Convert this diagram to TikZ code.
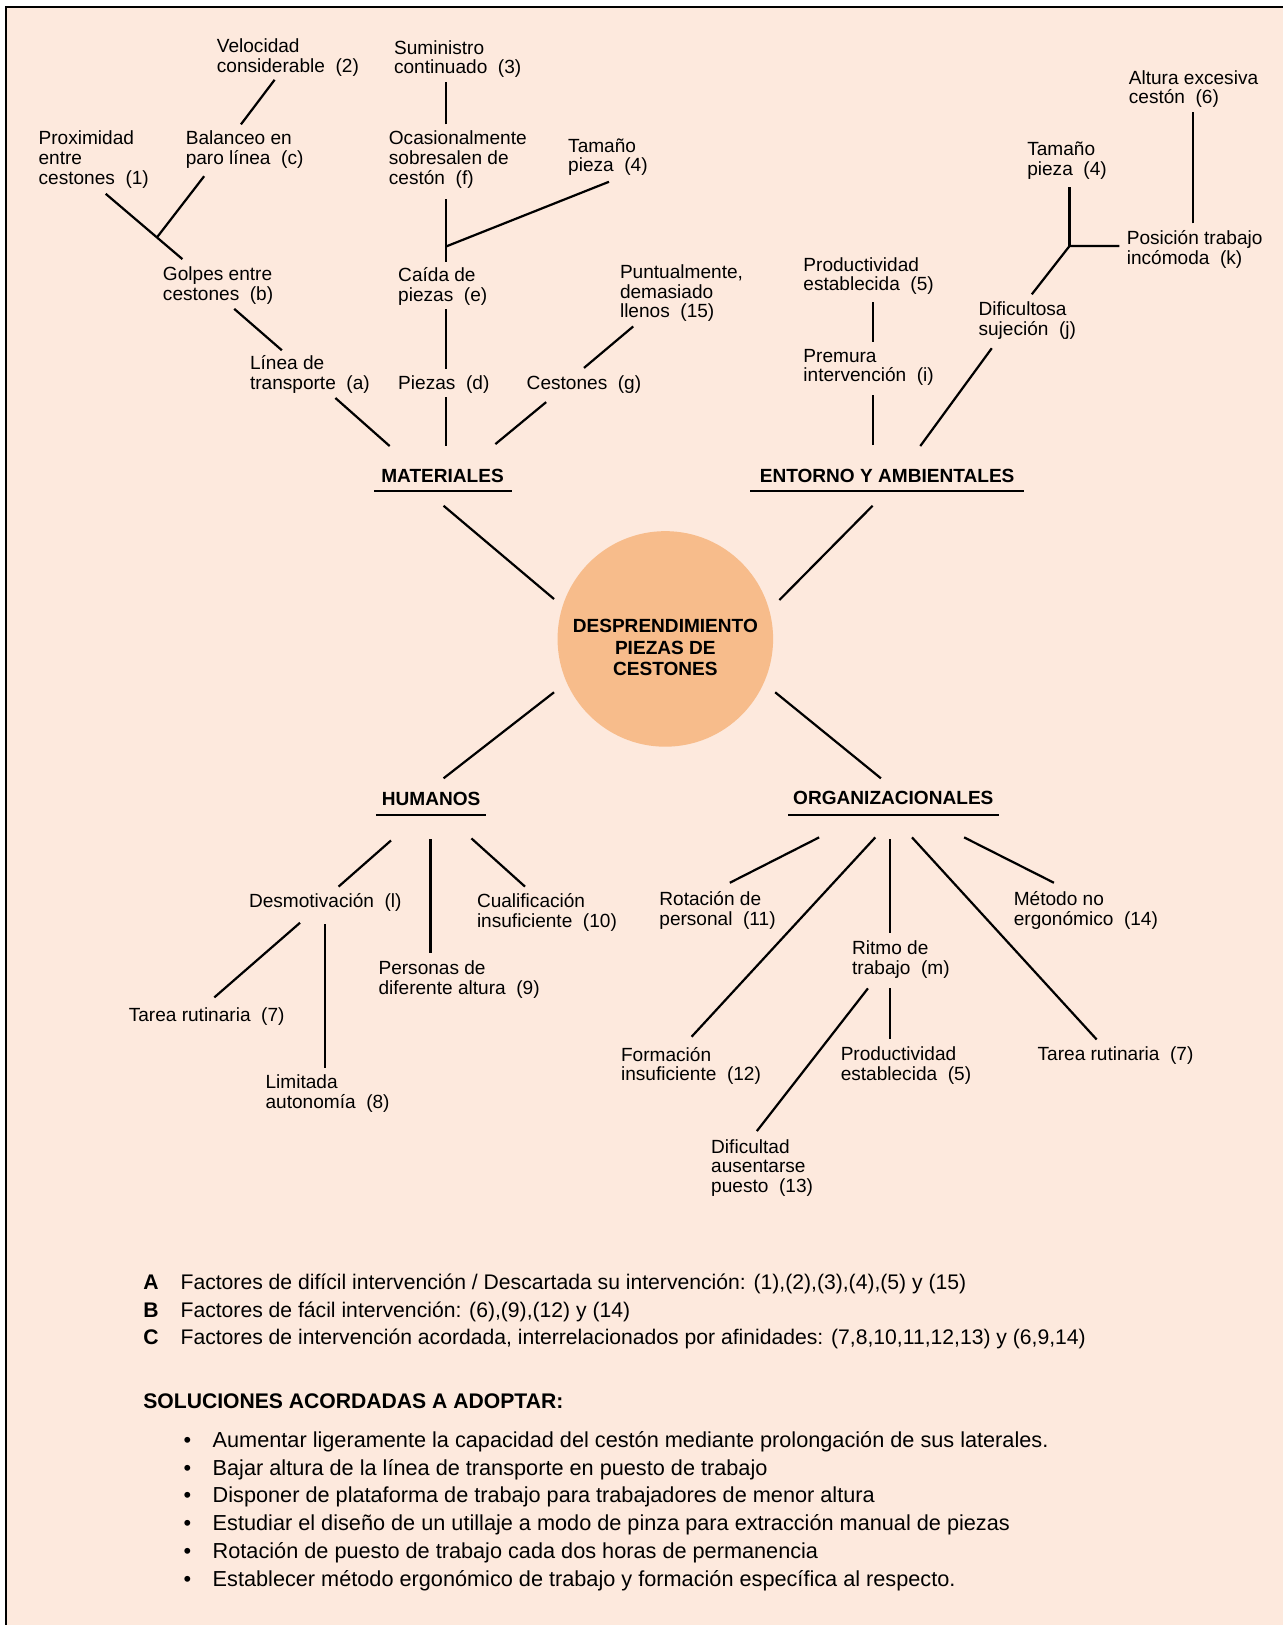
\documentclass[tikz,border=0pt]{standalone}
\usepackage{fontspec}
\setmainfont{Liberation Sans}
\definecolor{bgc}{HTML}{FDE9DD}
\definecolor{circc}{HTML}{F7BC8B}
\begin{document}
\begin{tikzpicture}[x=0.75pt,y=-0.75pt,
  lbl/.style={font=\fontsize{13.8}{14.25}\selectfont, align=left, anchor=west, inner sep=0pt, yshift=-1.5pt},
  cat/.style={font=\fontsize{13.8}{15}\selectfont\bfseries, inner sep=0pt},
  ln/.style={line width=1.6pt},
  ul/.style={line width=1.8pt},
  foot/.style={font=\fontsize{15.3}{20}\selectfont, align=left, anchor=west, inner sep=0pt, yshift=-1.5pt}]
\useasboundingbox (0,0) rectangle (1238,1568);
\fill[bgc] (6,7) rectangle (1238,1568);
\draw[line width=1.5pt] (6,1568) -- (6,7) -- (1238,7);

% central circle
\node[circle, fill=circc, minimum size=156pt, inner sep=0pt] (core) at (642,616.5) {};
\node[font=\fontsize{13.8}{15.6}\selectfont\bfseries, align=center, inner sep=0pt] (coretext) at (642,625) {DESPRENDIMIENTO\\PIEZAS DE\\CESTONES};

% category labels
\node[cat] (mat) at (427,459) {MATERIALES};
\node[cat] (ent) at (856,459) {ENTORNO Y AMBIENTALES};
\node[cat] (hum) at (416,771) {HUMANOS};
\node[cat] (org) at (862,770) {ORGANIZACIONALES};
\draw[ul] (361,474) -- (494,474);
\draw[ul] (723.8,474) -- (987.6,474);
\draw[ul] (362.8,786.4) -- (469.3,786.4);
\draw[ul] (760.6,786.4) -- (963.6,786.4);

% MATERIALES labels
\node[lbl] (vel) at (209,53.5) {Velocidad\\considerable~~(2)};
\node[lbl] (sum) at (380,55) {Suministro\\continuado~~(3)};
\node[lbl] (prox) at (37,152) {Proximidad\\entre\\cestones~~(1)};
\node[lbl] (bal) at (179,142.5) {Balanceo en\\paro línea~~(c)};
\node[lbl] (oca) at (375,152) {Ocasionalmente\\sobresalen de\\cestón~~(f)};
\node[lbl] (tamA) at (548,149.5) {Tamaño\\pieza~~(4)};
\node[lbl] (golpes) at (157,273.5) {Golpes entre\\cestones~~(b)};
\node[lbl] (caida) at (384,274.5) {Caída de\\piezas~~(e)};
\node[lbl] (punt) at (598,281) {Puntualmente,\\demasiado\\llenos~~(15)};
\node[lbl] (linea) at (241,359.5) {Línea de\\transporte~~(a)};
\node[lbl] (piezas) at (384,369) {Piezas~~(d)};
\node[lbl] (cest) at (508,369) {Cestones~~(g)};

% ENTORNO labels
\node[lbl] (alt) at (1089,84) {Altura excesiva\\cestón~~(6)};
\node[lbl] (tamB) at (991,153) {Tamaño\\pieza~~(4)};
\node[lbl] (pos) at (1087,238.5) {Posición trabajo\\incómoda~~(k)};
\node[lbl] (prodA) at (775,264.5) {Productividad\\establecida~~(5)};
\node[lbl] (dif) at (944,307.5) {Dificultosa\\sujeción~~(j)};
\node[lbl] (prem) at (775,352.5) {Premura\\intervención~~(i)};

% HUMANOS labels
\node[lbl] (desm) at (240,869) {Desmotivación~~(l)};
\node[lbl] (cual) at (460,878.5) {Cualificación\\insuficiente~~(10)};
\node[lbl] (pers) at (365,943) {Personas de\\diferente altura~~(9)};
\node[lbl] (tareaA) at (124,979) {Tarea rutinaria~~(7)};
\node[lbl] (lim) at (256,1053.5) {Limitada\\autonomía~~(8)};

% ORGANIZACIONALES labels
\node[lbl] (rot) at (636,876.5) {Rotación de\\personal~~(11)};
\node[lbl] (met) at (978,876.5) {Método no\\ergonómico~~(14)};
\node[lbl] (ritmo) at (822,924) {Ritmo de\\trabajo~~(m)};
\node[lbl] (form) at (599,1026.5) {Formación\\insuficiente~~(12)};
\node[lbl] (prodB) at (811,1026.5) {Productividad\\establecida~~(5)};
\node[lbl] (tareaB) at (1001,1017) {Tarea rutinaria~~(7)};
\node[lbl] (dific) at (686,1125) {Dificultad\\ausentarse\\puesto~~(13)};

% connector end points
\coordinate (c1a) at (534.6,578);   \coordinate (c1b) at (428,488);
\coordinate (c2a) at (752,579);     \coordinate (c2b) at (842,488);
\coordinate (c3a) at (534.6,668);   \coordinate (c3b) at (428,751);
\coordinate (c4a) at (748,668);     \coordinate (c4b) at (850,751);

\coordinate (m1a) at (376,430.4);   \coordinate (m1b) at (323.6,384);
\coordinate (m2a) at (430,430);     \coordinate (m2b) at (430,383);
\coordinate (m3a) at (478,428.5);   \coordinate (m3b) at (527,388);
\coordinate (m4a) at (272,338);     \coordinate (m4b) at (226,298);
\coordinate (m5a) at (430,356);     \coordinate (m5b) at (430,298);
\coordinate (m6a) at (563.5,355);   \coordinate (m6b) at (611,315);
\coordinate (m7a) at (176,250);     \coordinate (m7b) at (102,187);
\coordinate (m7j) at (151.5,229);   \coordinate (m7c) at (197,170);
\coordinate (m8a) at (232.5,120);   \coordinate (m8b) at (265,77);
\coordinate (m9a) at (430,252.6);   \coordinate (m9b) at (430,191.6);
\coordinate (m9j) at (430,238);     \coordinate (m9c) at (587.6,175.4);
\coordinate (m10a) at (430,120);    \coordinate (m10b) at (430,79.6);

\coordinate (e1a) at (842,429.5);   \coordinate (e1b) at (842,381);
\coordinate (e2a) at (842,329.7);   \coordinate (e2b) at (842,291);
\coordinate (e3a) at (888,430.4);   \coordinate (e3b) at (957,336);
\coordinate (e4a) at (995.6,284);   \coordinate (e4j) at (1032,237.4);
\coordinate (e4b) at (1032,180);    \coordinate (e4c) at (1080,237.4);
\coordinate (e5a) at (1151,215.5);  \coordinate (e5b) at (1151,107.8);

\coordinate (h1a) at (377.3,811);   \coordinate (h1b) at (326.7,855.5);
\coordinate (h2a) at (415.3,810);   \coordinate (h2b) at (415.3,920);
\coordinate (h3a) at (454.9,809);   \coordinate (h3b) at (506.6,855.5);
\coordinate (h4a) at (289.5,890.4); \coordinate (h4b) at (206.8,962.4);
\coordinate (h5a) at (313.6,891.6); \coordinate (h5b) at (313.6,1031);

\coordinate (o1a) at (790.4,808);   \coordinate (o1b) at (704.2,851.8);
\coordinate (o2a) at (844.6,808);   \coordinate (o2b) at (667.3,1000.4);
\coordinate (o3a) at (858.5,810);   \coordinate (o3b) at (858.5,900);
\coordinate (o4a) at (880,808);     \coordinate (o4b) at (1058.2,1003);
\coordinate (o5a) at (930.3,808);   \coordinate (o5b) at (1017,851.8);
\coordinate (o6a) at (837.5,953.7); \coordinate (o6b) at (730.3,1091.4);
\coordinate (o7a) at (858.5,953.7); \coordinate (o7b) at (858.5,1003);

% connectors
\draw[ln] (c1a) -- (c1b);
\draw[ln] (c2a) -- (c2b);
\draw[ln] (c3a) -- (c3b);
\draw[ln] (c4a) -- (c4b);

\draw[ln] (m1a) -- (m1b);
\draw[ln] (m2a) -- (m2b);
\draw[ln] (m3a) -- (m3b);
\draw[ln] (m4a) -- (m4b);
\draw[ln] (m5a) -- (m5b);
\draw[ln] (m6a) -- (m6b);
\draw[ln] (m7a) -- (m7b);
\draw[ln] (m7j) -- (m7c);
\draw[ln] (m8a) -- (m8b);
\draw[ln] (m9a) -- (m9b);
\draw[ln] (m9j) -- (m9c);
\draw[ln] (m10a) -- (m10b);

\draw[ln] (e1a) -- (e1b);
\draw[ln] (e2a) -- (e2b);
\draw[ln] (e3a) -- (e3b);
\draw[ln] (e4a) -- (e4j) -- (e4c);
\draw[ln] (e4j) -- (e4b);
\draw[ln] (e5a) -- (e5b);

\draw[ln] (h1a) -- (h1b);
\draw[ln] (h2a) -- (h2b);
\draw[ln] (h3a) -- (h3b);
\draw[ln] (h4a) -- (h4b);
\draw[ln] (h5a) -- (h5b);

\draw[ln] (o1a) -- (o1b);
\draw[ln] (o2a) -- (o2b);
\draw[ln] (o3a) -- (o3b);
\draw[ln] (o4a) -- (o4b);
\draw[ln] (o5a) -- (o5b);
\draw[ln] (o6a) -- (o6b);
\draw[ln] (o7a) -- (o7b);

% footer
\node[foot] (abc) at (138,1263.5) {\makebox[27pt][l]{\bfseries A}Factores de difícil intervención / Descartada su intervención: (1),(2),(3),(4),(5) y (15)\\
\makebox[27pt][l]{\bfseries B}Factores de fácil intervención: (6),(9),(12) y (14)\\
\makebox[27pt][l]{\bfseries C}Factores de intervención acordada, interrelacionados por afinidades: (7,8,10,11,12,13) y (6,9,14)};
\node[foot, font=\fontsize{15.3}{20}\selectfont\bfseries, yshift=0.75pt] (sol) at (138,1351) {SOLUCIONES ACORDADAS A ADOPTAR:};
\node[foot, font=\fontsize{15.7}{20.1}\selectfont] (bul) at (177,1456) {\makebox[21pt][l]{•}Aumentar ligeramente la capacidad del cestón mediante prolongación de sus laterales.\\
\makebox[21pt][l]{•}Bajar altura de la línea de transporte en puesto de trabajo\\
\makebox[21pt][l]{•}Disponer de plataforma de trabajo para trabajadores de menor altura\\
\makebox[21pt][l]{•}Estudiar el diseño de un utillaje a modo de pinza para extracción manual de piezas\\
\makebox[21pt][l]{•}Rotación de puesto de trabajo cada dos horas de permanencia\\
\makebox[21pt][l]{•}Establecer método ergonómico de trabajo y formación específica al respecto.};
\end{tikzpicture}
\end{document}
